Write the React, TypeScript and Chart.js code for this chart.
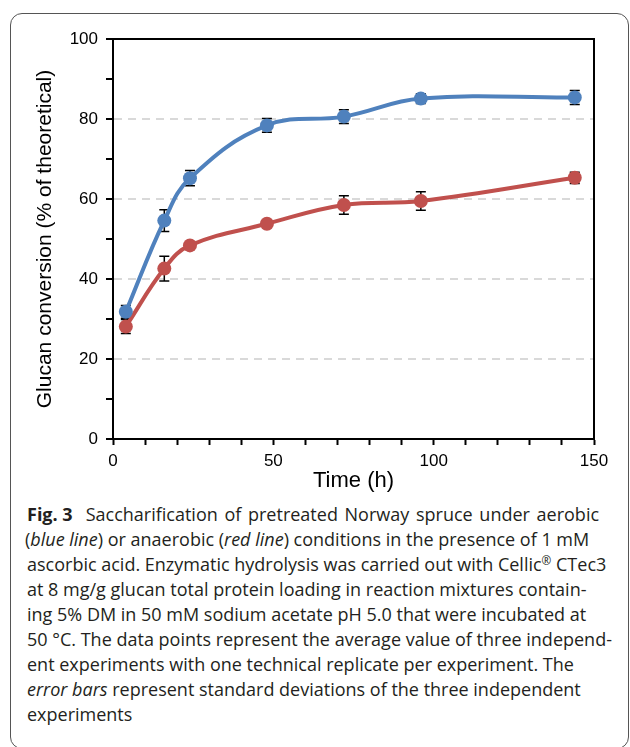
import React, { useEffect, useRef } from "react";
import { Chart, registerables } from "chart.js";

Chart.register(...registerables);

// ---- data ----
const timeHours = [4, 16, 24, 48, 72, 96, 144];
const aerobicMean = [31.8, 54.6, 65.2, 78.4, 80.6, 85.1, 85.4];
const aerobicSd = [1.6, 2.7, 1.9, 1.7, 1.7, 1.2, 1.75];
const anaerobicMean = [28.1, 42.6, 48.4, 53.8, 58.5, 59.5, 65.3];
const anaerobicSd = [1.75, 3.1, 0.6, 0.6, 2.3, 2.3, 1.4];
const xTickLabels = [0, 50, 100, 150];
const yTickLabels = [0, 20, 40, 60, 80, 100];
const yGridValues = [20, 40, 60, 80];

const BLUE = "#4F81BD";
const RED = "#C0504D";
const AXIS_FONT = "'Liberation Sans', Arial, sans-serif";

const errorBarPlugin = {
  id: "errorBars",
  beforeDatasetsDraw(chart: any) {
    const { ctx, scales } = chart;
    const xs = scales.x;
    const ys = scales.y;
    ctx.save();
    ctx.strokeStyle = "#000";
    ctx.lineWidth = 1.5;
    chart.data.datasets.forEach((ds: any) => {
      const sd: number[] = ds.sd || [];
      ds.data.forEach((pt: any, i: number) => {
        const e = sd[i];
        if (!e) return;
        const x = xs.getPixelForValue(pt.x);
        const yT = ys.getPixelForValue(pt.y + e);
        const yB = ys.getPixelForValue(pt.y - e);
        ctx.beginPath();
        ctx.moveTo(x, yT);
        ctx.lineTo(x, yB);
        ctx.moveTo(x - 5, yT);
        ctx.lineTo(x + 5, yT);
        ctx.moveTo(x - 5, yB);
        ctx.lineTo(x + 5, yB);
        ctx.stroke();
      });
    });
    ctx.restore();
  },
};

const framePlugin = {
  id: "frame",
  afterDraw(chart: any) {
    const { ctx, chartArea } = chart;
    ctx.save();
    ctx.strokeStyle = "#000";
    ctx.lineWidth = 2;
    ctx.beginPath();
    ctx.moveTo(chartArea.left, chartArea.top);
    ctx.lineTo(chartArea.right, chartArea.top);
    ctx.lineTo(chartArea.right, chartArea.bottom);
    ctx.stroke();
    ctx.restore();
  },
};

function ChartCanvas() {
  const ref = useRef<HTMLCanvasElement | null>(null);
  useEffect(() => {
    if (!ref.current) return;
    const chart = new Chart(ref.current, {
      type: "line",
      data: {
        datasets: [
          {
            label: "Aerobic",
            data: timeHours.map((t, i) => ({ x: t, y: aerobicMean[i] })),
            sd: aerobicSd,
            borderColor: BLUE,
            backgroundColor: BLUE,
            pointBackgroundColor: BLUE,
            pointBorderColor: BLUE,
            borderWidth: 4,
            pointRadius: 7,
            pointHoverRadius: 7,
            pointBorderWidth: 0,
            tension: 0.4,
            fill: false,
          } as any,
          {
            label: "Anaerobic",
            data: timeHours.map((t, i) => ({ x: t, y: anaerobicMean[i] })),
            sd: anaerobicSd,
            borderColor: RED,
            backgroundColor: RED,
            pointBackgroundColor: RED,
            pointBorderColor: RED,
            borderWidth: 4,
            pointRadius: 7,
            pointHoverRadius: 7,
            pointBorderWidth: 0,
            tension: 0.4,
            fill: false,
          } as any,
        ],
      },
      options: {
        animation: false,
        responsive: false,
        devicePixelRatio: 1,
        layout: { padding: { top: 39, right: 36, left: 0, bottom: 0 } },
        plugins: {
          legend: { display: false },
          tooltip: { enabled: false },
          title: { display: false },
        },
        scales: {
          x: {
            type: "linear",
            min: 0,
            max: 150,
            afterFit: (s: any) => {
              s.height = 61;
            },
            ticks: {
              stepSize: 10,
              autoSkip: false,
              maxRotation: 0,
              padding: 6,
              color: "#000",
              font: { family: AXIS_FONT, size: 17 },
              callback: (v: any) => (xTickLabels.includes(Number(v)) ? String(v) : ""),
            },
            grid: {
              drawOnChartArea: false,
              tickColor: "#000",
              tickLength: 6,
              tickWidth: 2,
            },
            border: { display: true, color: "#000", width: 2 },
            title: {
              display: true,
              text: "Time (h)",
              color: "#000",
              font: { family: AXIS_FONT, size: 22, lineHeight: 1.2 },
              padding: { top: 0, bottom: 6 },
            },
          },
          y: {
            type: "linear",
            min: 0,
            max: 100,
            afterFit: (s: any) => {
              s.width = 113;
            },
            ticks: {
              stepSize: 10,
              autoSkip: false,
              padding: 8,
              color: "#000",
              font: { family: AXIS_FONT, size: 17 },
              callback: (v: any) => (yTickLabels.includes(Number(v)) ? String(v) : ""),
            },
            grid: {
              color: (c: any) =>
                c.tick && yGridValues.includes(c.tick.value) ? "#d9d9d9" : "rgba(0,0,0,0)",
              lineWidth: 2,
              tickColor: "#000",
              tickLength: 7,
              tickWidth: 2,
            },
            border: { display: true, color: "#000", width: 2, dash: [8, 6] },
            title: {
              display: true,
              text: "Glucan conversion (% of theoretical)",
              color: "#000",
              font: { family: AXIS_FONT, size: 21, lineHeight: 1.2 },
              padding: { top: 33, bottom: 0 },
            },
          },
        },
      },
      plugins: [errorBarPlugin, framePlugin],
    } as any);
    return () => chart.destroy();
  }, []);
  return (
    <canvas
      ref={ref}
      width={630}
      height={500}
      style={{ position: "absolute", left: 0, top: 0, width: 630, height: 500 }}
    />
  );
}

export default function App() {
  const lineStyle: React.CSSProperties = { whiteSpace: "nowrap", height: 25 };
  return (
    <div
      style={{
        position: "absolute",
        left: 0,
        top: 0,
        width: 630,
        height: 747,
        overflow: "hidden",
        background: "#fff",
      }}
    >
      <div
        style={{
          position: "absolute",
          left: 10,
          top: 13,
          width: 619,
          height: 736,
          border: "1px solid #555",
          borderRadius: 12,
          boxSizing: "border-box",
        }}
      />
      <ChartCanvas />
      <div
        style={{
          position: "absolute",
          left: 27,
          top: 502,
          fontFamily: "'Open Sans', sans-serif",
          fontSize: 18,
          lineHeight: "25px",
          color: "#231f20",
        }}
      >
        <div style={lineStyle}>
          <b>Fig. 3</b>
          <span style={{ marginLeft: 13, wordSpacing: 2 }}>
            Saccharification of pretreated Norway spruce under aerobic
          </span>
        </div>
        <div style={{ ...lineStyle, marginLeft: -2 }}>
          (<i>blue line</i>) or anaerobic (<i>red line</i>) conditions in the presence of 1 mM
        </div>
        <div style={lineStyle}>
          ascorbic acid. Enzymatic hydrolysis was carried out with Cellic
          <sup style={{ fontSize: "0.65em", lineHeight: 0, verticalAlign: "0.55em" }}>®</sup> CTec3
        </div>
        <div style={lineStyle}>at 8 mg/g glucan total protein loading in reaction mixtures contain-</div>
        <div style={lineStyle}>ing 5% DM in 50 mM sodium acetate pH 5.0 that were incubated at</div>
        <div style={lineStyle}>50 °C. The data points represent the average value of three independ-</div>
        <div style={lineStyle}>ent experiments with one technical replicate per experiment. The</div>
        <div style={lineStyle}>
          <i>error bars</i> represent standard deviations of the three independent
        </div>
        <div style={lineStyle}>experiments</div>
      </div>
    </div>
  );
}
